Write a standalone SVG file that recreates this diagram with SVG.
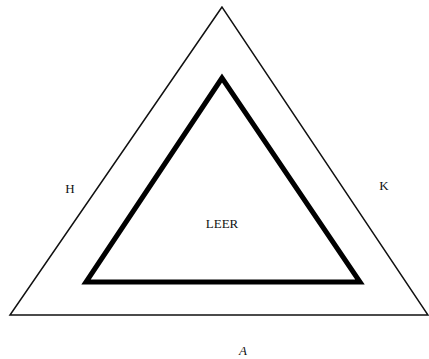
<svg xmlns="http://www.w3.org/2000/svg" width="429" height="359" viewBox="0 0 429 359">
<style>
.lbl{font-family:"Liberation Serif","Times New Roman",serif;font-size:13px;fill:#111;text-anchor:middle}
.outer{fill:none;stroke:#111;stroke-width:1.5;stroke-linejoin:miter}
.inner{fill:none;stroke:#000;stroke-width:5;stroke-linejoin:miter}
</style>
<rect width="429" height="359" fill="#fff"/>
<g id="outer-triangle"><polygon class="outer" points="222,7 10,315 428,315"/></g>
<g id="inner-triangle"><polygon class="inner" points="222,78 86,282 360,282"/></g>
<g id="label-H"><text class="lbl" x="70" y="193">H</text></g>
<g id="label-K"><text class="lbl" x="384" y="190">K</text></g>
<g id="label-LEER"><text class="lbl" x="222" y="228" font-size="14">LEER</text></g>
<g id="label-A"><text class="lbl" x="243" y="355" font-size="10" font-family="Liberation Sans, Arial, sans-serif" font-style="italic">A</text></g>
</svg>
